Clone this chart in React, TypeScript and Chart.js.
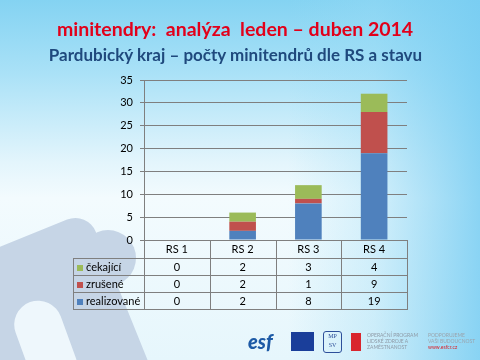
import React, { useEffect, useRef } from "react";
import { Chart, registerables } from "chart.js";

Chart.register(...registerables);

const TITLE = "minitendry:  analýza  leden – duben 2014";
const SUBTITLE = "Pardubický kraj – počty minitendrů dle RS a stavu";

const categories = ["RS 1", "RS 2", "RS 3", "RS 4"];
const realizovane = [0, 2, 8, 19];
const zrusene = [0, 2, 1, 9];
const cekajici = [0, 2, 3, 4];

const seriesNames = ["realizované", "zrušené", "čekající"];
const seriesColors = ["#4F81BD", "#C0504D", "#9BBB59"];

const yMin = 0;
const yMax = 35;
const yStep = 5;

const FONT = "Lato, 'Open Sans', sans-serif";
const LINE = "#7f7f7f";

const tablePlugin = {
  id: "dataTable",
  afterDraw(chart: any) {
    const { ctx, chartArea } = chart;
    const xs = chart.scales.x;
    const n = categories.length;
    const colW = (chartArea.right - chartArea.left) / n;
    const top = Math.round(chartArea.bottom);
    const headerH = 18;
    const rowH = 17;
    const left = 73;
    const right = Math.round(chartArea.right);
    const rows = [
      { name: seriesNames[2], color: seriesColors[2], data: cekajici },
      { name: seriesNames[1], color: seriesColors[1], data: zrusene },
      { name: seriesNames[0], color: seriesColors[0], data: realizovane },
    ];
    const bottom = top + headerH + rows.length * rowH;
    ctx.save();
    ctx.strokeStyle = LINE;
    ctx.lineWidth = 1;
    ctx.beginPath();
    for (let r = 0; r <= rows.length; r++) {
      const y = top + headerH + r * rowH + 0.5;
      ctx.moveTo(left, y);
      ctx.lineTo(right + 1, y);
    }
    ctx.moveTo(left + 0.5, top + headerH);
    ctx.lineTo(left + 0.5, bottom + 1);
    for (let i = 0; i <= n; i++) {
      const x = Math.round(chartArea.left + i * colW) + 0.5;
      ctx.moveTo(x, top);
      ctx.lineTo(x, bottom + 1);
    }
    ctx.stroke();

    ctx.font = `11px ${FONT}`;
    ctx.fillStyle = "#000";
    ctx.textBaseline = "middle";
    rows.forEach((row, r) => {
      const yc = top + headerH + r * rowH + rowH / 2 + 1;
      ctx.fillStyle = row.color;
      ctx.fillRect(77, Math.round(yc - 3), 6, 6);
      ctx.fillStyle = "#000";
      ctx.textAlign = "left";
      ctx.fillText(row.name, 86, yc);
      ctx.textAlign = "center";
      row.data.forEach((v, i) => {
        ctx.fillText(String(v), xs.getPixelForValue(i), yc);
      });
    });
    ctx.restore();
  },
};

function ChartView() {
  const ref = useRef<HTMLCanvasElement | null>(null);
  useEffect(() => {
    if (!ref.current) return;
    const chart = new Chart(ref.current, {
      type: "bar",
      data: {
        labels: categories,
        datasets: [
          { label: seriesNames[0], data: realizovane, backgroundColor: seriesColors[0] },
          { label: seriesNames[1], data: zrusene, backgroundColor: seriesColors[1] },
          { label: seriesNames[2], data: cekajici, backgroundColor: seriesColors[2] },
        ],
      },
      options: {
        responsive: false,
        animation: false,
        devicePixelRatio: 1,
        layout: { padding: { left: 0, right: 73, top: 80, bottom: 102 } },
        datasets: { bar: { barPercentage: 0.405, categoryPercentage: 1 } } as any,
        plugins: {
          legend: { display: false },
          tooltip: { enabled: false },
          title: { display: false },
        },
        scales: {
          x: {
            stacked: true,
            grid: { display: false, drawTicks: false },
            border: { display: false },
            ticks: { color: "#000", font: { family: FONT, size: 11 }, padding: 3 },
            afterFit: (s: any) => {
              s.height = 18;
            },
          },
          y: {
            stacked: true,
            min: yMin,
            max: yMax,
            ticks: { stepSize: yStep, color: "#000", font: { family: FONT, size: 11 }, padding: 7 },
            grid: { color: LINE, tickLength: 4, drawTicks: true },
            border: { display: true, color: LINE },
            afterFit: (s: any) => {
              s.width = 144;
            },
          },
        },
      },
      plugins: [tablePlugin],
    });
    return () => chart.destroy();
  }, []);
  return <canvas ref={ref} width={480} height={360} style={{ position: "absolute", left: 0, top: 0 }} />;
}

export default function App() {
  return (
    <div
      style={{
        position: "fixed",
        left: 0,
        top: 0,
        width: 480,
        height: 360,
        overflow: "hidden",
        background:
          "linear-gradient(to left, rgba(120,205,242,0.85) 0%, rgba(150,218,245,0.35) 22%, rgba(255,255,255,0) 40%), linear-gradient(to bottom, #84d3f2 0%, #a9e1f7 20%, #e3f5fc 45%, #f3fbfe 55%, #e6f6fc 100%)",
      }}
    >
      <div
        style={{
          position: "absolute",
          left: -60,
          top: 240,
          width: 190,
          height: 190,
          background: "#c6d5e6",
          borderRadius: 22,
          transform: "rotate(-22deg)",
        }}
      />
      <div
        style={{
          position: "absolute",
          left: 80,
          top: 230,
          width: 56,
          height: 56,
          background: "#c6d5e6",
          borderRadius: "50%",
        }}
      />
      <div
        style={{
          position: "absolute",
          left: 18,
          top: 300,
          width: 48,
          height: 70,
          background: "#eef7fc",
          borderRadius: "24px 24px 0 0",
          transform: "rotate(-20deg)",
        }}
      />
      <ChartView />
      <div
        style={{
          position: "absolute",
          left: 0,
          top: 19,
          width: 470,
          textAlign: "center",
          fontFamily: FONT,
          fontWeight: 700,
          fontSize: 19.5,
          lineHeight: "19.5px",
          color: "#E2001A",
          whiteSpace: "pre",
        }}
      >
        {TITLE}
      </div>
      <div
        style={{
          position: "absolute",
          left: 0,
          top: 45.5,
          width: 471,
          textAlign: "center",
          fontFamily: FONT,
          fontWeight: 700,
          fontSize: 17,
          lineHeight: "17px",
          color: "#1F497D",
          whiteSpace: "pre",
        }}
      >
        {SUBTITLE}
      </div>
      <div style={{ position: "absolute", left: 248, top: 331, width: 40, height: 21, fontFamily: FONT, fontWeight: 900, fontStyle: "italic", fontSize: 20, lineHeight: "21px", color: "#1d5aa6" }}>esf</div>
      <div style={{ position: "absolute", left: 291, top: 332, width: 23, height: 19, background: "#1a3e9a" }} />
      <div style={{ position: "absolute", left: 323, top: 331, width: 17, height: 20, border: "1.5px solid #2d4f9a", borderRadius: 3, fontSize: 6, color: "#2d4f9a", fontFamily: "serif", lineHeight: "9px", textAlign: "center" }}>MP SV</div>
      <div style={{ position: "absolute", left: 351, top: 333, width: 10, height: 18, background: "#d9262e" }} />
      <div style={{ position: "absolute", left: 367, top: 332, width: 56, fontSize: 5, lineHeight: "6px", color: "#8e9aa6", fontFamily: FONT }}>OPERAČNÍ PROGRAM LIDSKÉ ZDROJE A ZAMĚSTNANOST</div>
      <div style={{ position: "absolute", left: 428, top: 332, width: 48, fontSize: 5, lineHeight: "6px", color: "#9aa4ad", fontFamily: FONT }}>PODPORUJEME VAŠI BUDOUCNOST <span style={{ color: "#d9262e" }}>www.esfcr.cz</span></div>
    </div>
  );
}
